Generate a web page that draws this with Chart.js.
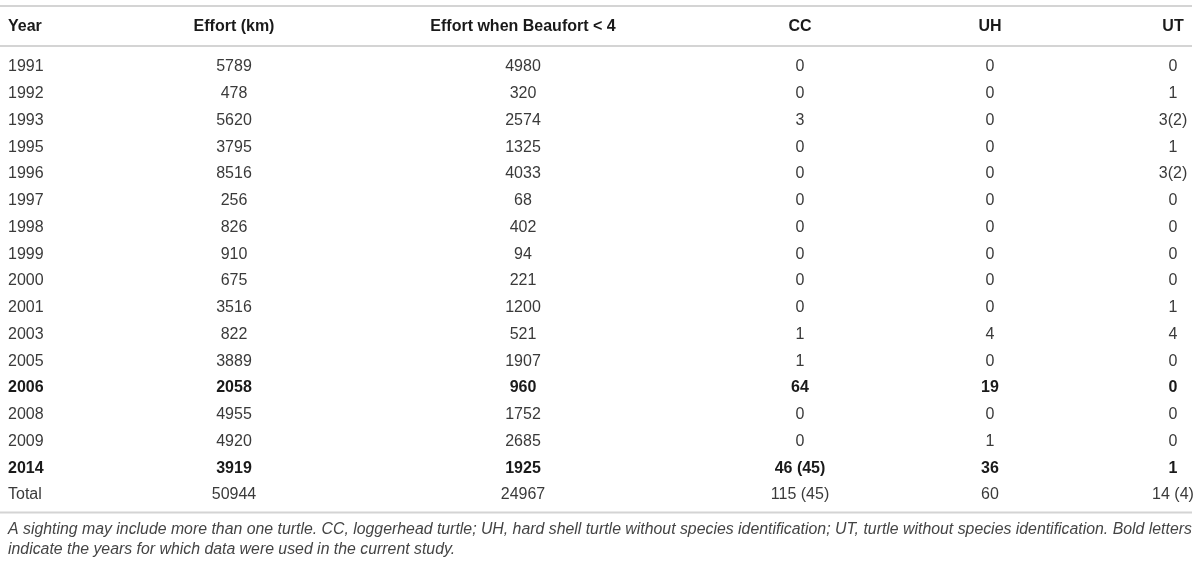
<!DOCTYPE html>
<html lang="en">
<head>
<meta charset="UTF-8">
<title>Sea turtle sightings by survey year</title>
<script src="https://cdn.jsdelivr.net/npm/chart.js"></script>
<style>
  html, body { margin: 0; padding: 0; background: #ffffff; }
  .wrap { width: 1200px; height: 565px; position: relative; }
</style>
</head>
<body>
<div class="wrap"><canvas id="tbl"></canvas></div>
<script>
// table content
const headers = ['Year', 'Effort (km)', 'Effort when Beaufort < 4', 'CC', 'UH', 'UT'];
const years = ['1991', '1992', '1993', '1995', '1996', '1997', '1998', '1999', '2000',
               '2001', '2003', '2005', '2006', '2008', '2009', '2014', 'Total'];
const effort = [5789, 478, 5620, 3795, 8516, 256, 826, 910, 675, 3516, 822, 3889, 2058, 4955, 4920, 3919, 50944];
const effortCalm = [4980, 320, 2574, 1325, 4033, 68, 402, 94, 221, 1200, 521, 1907, 960, 1752, 2685, 1925, 24967];
const cc = ['0', '0', '3', '0', '0', '0', '0', '0', '0', '0', '1', '1', '64', '0', '0', '46 (45)', '115 (45)'];
const uh = ['0', '0', '0', '0', '0', '0', '0', '0', '0', '0', '4', '0', '19', '0', '1', '36', '60'];
const ut = ['0', '1', '3(2)', '1', '3(2)', '0', '0', '0', '0', '1', '4', '0', '0', '0', '0', '1', '14 (4)'];
const boldRows = ['2006', '2014'];
const footnote = [
  'A sighting may include more than one turtle. CC, loggerhead turtle; UH, hard shell turtle without species identification; UT, turtle without species identification. Bold letters',
  'indicate the years for which data were used in the current study.'
];

// layout (kept apart from the data)
const colX = [8, 234, 523, 800, 990, 1173];
const colAlign = ['left', 'center', 'center', 'center', 'center', 'center'];
const FONT = '"Liberation Sans", Arial, Helvetica, sans-serif';

const columns = [years, effort, effortCalm, cc, uh, ut];

const tablePlugin = {
  id: 'tableText',
  afterDraw(chart) {
    const ctx = chart.ctx;
    const xs = chart.scales.x;
    const ys = chart.scales.y;
    const top = chart.chartArea.top;
    const bottom = chart.chartArea.bottom;
    ctx.save();

    // rules
    ctx.strokeStyle = '#d4d4d4';
    ctx.lineWidth = 2;
    [top - 47.5, top - 7.5, bottom + 4].forEach(y => {
      ctx.beginPath();
      ctx.moveTo(xs.getPixelForValue(0), y);
      ctx.lineTo(xs.getPixelForValue(1192), y);
      ctx.stroke();
    });

    ctx.textBaseline = 'middle';

    // header row
    ctx.fillStyle = '#1a1a1a';
    ctx.font = 'bold 16px ' + FONT;
    headers.forEach((h, c) => {
      ctx.textAlign = colAlign[c];
      ctx.fillText(h, xs.getPixelForValue(colX[c]), top - 27.5);
    });

    // body rows
    years.forEach((yr, r) => {
      const bold = boldRows.includes(yr);
      ctx.font = (bold ? 'bold ' : '') + '16px ' + FONT;
      ctx.fillStyle = bold ? '#1a1a1a' : '#3a3a3a';
      const y = ys.getPixelForValue(r);
      columns.forEach((col, c) => {
        ctx.textAlign = colAlign[c];
        ctx.fillText(String(col[r]), xs.getPixelForValue(colX[c]), y);
      });
    });

    // footnote
    ctx.font = 'italic 15.85px ' + FONT;
    ctx.fillStyle = '#444444';
    ctx.textAlign = 'left';
    footnote.forEach((line, i) => {
      ctx.fillText(line, xs.getPixelForValue(8), bottom + 21 + i * 20);
    });
    ctx.restore();
  }
};

new Chart(document.getElementById('tbl'), {
  type: 'scatter',
  data: { datasets: [] },
  options: {
    responsive: true,
    maintainAspectRatio: false,
    animation: false,
    events: [],
    layout: { padding: { top: 53.6, bottom: 56.6, left: 0, right: 0 } },
    plugins: { legend: { display: false }, tooltip: { enabled: false } },
    scales: {
      x: { type: 'linear', min: 0, max: 1200, display: false },
      y: { type: 'category', labels: years, offset: true, display: false }
    }
  },
  plugins: [tablePlugin]
});
</script>
</body>
</html>
